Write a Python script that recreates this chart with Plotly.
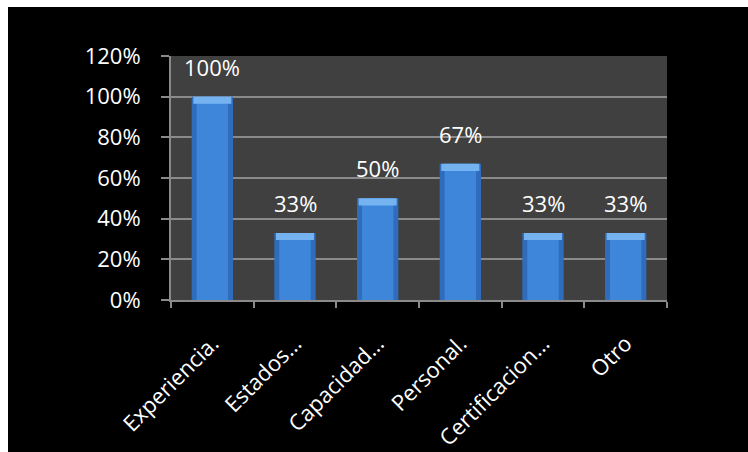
import plotly.graph_objects as go

categories = ["Experiencia.", "Estados…", "Capacidad…", "Personal.", "Certificacion…", "Otro"]
values = [1.00, 0.33, 0.50, 0.67, 0.33, 0.33]
labels = ["100%", "33%", "50%", "67%", "33%", "33%"]
y_ticks = [0, 0.2, 0.4, 0.6, 0.8, 1.0, 1.2]
y_ticklabels = ["0%", "20%", "40%", "60%", "80%", "100%", "120%"]

FONT = "Open Sans"
GRID = "#8a8a8a"

fig = go.Figure()
# main bar (darker edges)
fig.add_trace(go.Bar(
    x=categories, y=values, width=0.5,
    marker=dict(color="#2f6cbc", line=dict(width=0)),
    hoverinfo="skip", showlegend=False,
))
# lighter centre
fig.add_trace(go.Bar(
    x=categories, y=values, width=0.38,
    marker=dict(color="#3d86da", line=dict(width=0)),
    hoverinfo="skip", showlegend=False,
))
# top bevel highlight
bevel = [0.035] * len(values)
fig.add_trace(go.Bar(
    x=categories, y=bevel, base=[v - b for v, b in zip(values, bevel)], width=0.46,
    marker=dict(color="#74b3f0", line=dict(width=0)),
    hoverinfo="skip", showlegend=False,
))

annotations = [
    dict(x=c, y=v, text=t, xref="x", yref="y", showarrow=False,
         yanchor="bottom", yshift=13,
         font=dict(color="white", size=22, family=FONT))
    for c, v, t in zip(categories, values, labels)
]

fig.update_layout(
    width=748, height=452,
    margin=dict(l=171, r=81, t=56, b=152),
    paper_bgcolor="black", plot_bgcolor="#404040",
    barmode="overlay",
    font=dict(family=FONT, color="white", size=22),
    annotations=annotations,
    xaxis=dict(
        type="category", tickangle=-45, showgrid=False, automargin=False,
        showline=True, linecolor=GRID, linewidth=2,
        ticks="outside", tickcolor=GRID, ticklen=6, tickwidth=2,
        tickson="boundaries", ticklabelstandoff=20,
        tickfont=dict(size=22, color="white", family=FONT),
    ),
    yaxis=dict(
        range=[0, 1.2], tickvals=y_ticks, ticktext=y_ticklabels,
        automargin=False,
        showgrid=True, gridcolor=GRID, gridwidth=2,
        showline=True, linecolor=GRID, linewidth=2,
        ticks="outside", tickcolor=GRID, ticklen=8, tickwidth=2,
        ticklabelstandoff=16, zeroline=False,
        tickfont=dict(size=22, color="white", family=FONT),
    ),
    shapes=[
        dict(type="rect", xref="paper", yref="paper",
             x0=-0.4, x1=1.2, y0=(300 - 7) / 244, y1=1.4,
             fillcolor="white", line=dict(width=0), layer="above"),
        dict(type="rect", xref="paper", yref="paper",
             x0=-0.4, x1=(8 - 171) / 496, y0=-0.7, y1=1.4,
             fillcolor="white", line=dict(width=0), layer="above"),
    ],
)

fig.write_html("out.html")
